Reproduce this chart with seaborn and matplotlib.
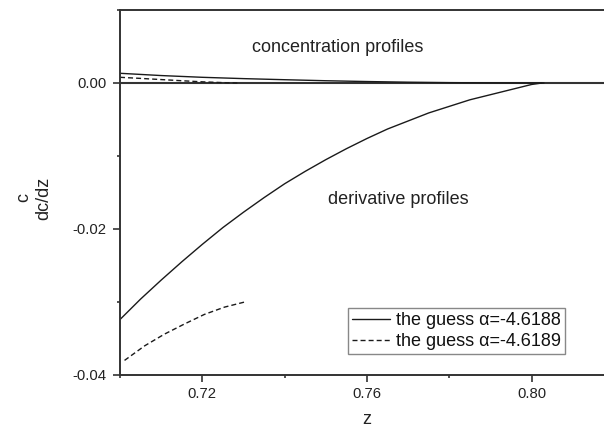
import matplotlib
matplotlib.use("Agg")
import matplotlib.pyplot as plt
import seaborn as sns
from matplotlib.ticker import FixedLocator

# ---- data ----
z_deriv_a = [0.700, 0.705, 0.710, 0.715, 0.720, 0.725, 0.730, 0.735, 0.740,
             0.745, 0.750, 0.755, 0.760, 0.765, 0.770, 0.775, 0.780, 0.785,
             0.790, 0.795, 0.800, 0.8025]
dcdz_a = [-0.0324, -0.0296, -0.0270, -0.0245, -0.0221, -0.0198, -0.0177,
          -0.0157, -0.0138, -0.0121, -0.0105, -0.0090, -0.0076, -0.0063,
          -0.0052, -0.0041, -0.0032, -0.0023, -0.0016, -0.0009, -0.0002, 0.0]

z_conc_a = [0.700, 0.710, 0.720, 0.730, 0.740, 0.750, 0.760, 0.770, 0.780,
            0.790, 0.800, 0.803]
c_a = [0.00133, 0.00102, 0.00078, 0.00060, 0.00045, 0.00031, 0.00020,
       0.00011, 0.00005, 0.00002, 0.00000, 0.0]

z_deriv_b = [0.7011, 0.7060, 0.7108, 0.7157, 0.7205, 0.7254, 0.7303]
dcdz_b = [-0.0380, -0.0360, -0.0344, -0.0330, -0.0317, -0.0307, -0.0300]

z_conc_b = [0.700, 0.705, 0.710, 0.715, 0.720, 0.725, 0.7285]
c_b = [0.00078, 0.00063, 0.00047, 0.00031, 0.00016, 0.00005, 0.0]

label_a = "the guess α=-4.6188"
label_b = "the guess α=-4.6189"

x_major = [0.72, 0.76, 0.80]
x_major_labels = ["0.72", "0.76", "0.80"]
x_minor = [0.70, 0.74, 0.78, 0.82]
y_major = [-0.04, -0.02, 0.00]
y_major_labels = ["-0.04", "-0.02", "0.00"]
y_minor = [-0.03, -0.01, 0.01]

# ---- styling ----
sns.set_theme(style="ticks")
plt.rcParams["font.family"] = ["Liberation Sans", "DejaVu Sans"]

fig = plt.figure(figsize=(6.04, 4.28), dpi=100)
W, H = 604, 428
left, right, top, bottom = 120, 614, 10, 375
ax = fig.add_axes([left / W, 1 - bottom / H, (right - left) / W, (bottom - top) / H])

col = "#1a1a1a"
dash = (0, (3.6, 2.2))

ax.axhline(0.0, color="#333333", lw=1.5, zorder=1)

sns.lineplot(x=z_deriv_a, y=dcdz_a, ax=ax, color=col, lw=1.0, sort=False,
             estimator=None, label=label_a)
sns.lineplot(x=z_deriv_b, y=dcdz_b, ax=ax, color=col, lw=1.0, sort=False,
             estimator=None, label=label_b, linestyle=dash)
sns.lineplot(x=z_conc_a, y=c_a, ax=ax, color=col, lw=1.0, sort=False,
             estimator=None)
sns.lineplot(x=z_conc_b, y=c_b, ax=ax, color=col, lw=1.0, sort=False,
             estimator=None, linestyle=dash)

ax.set_xlim(0.70, 0.82)
ax.set_ylim(-0.04, 0.01)

ax.xaxis.set_major_locator(FixedLocator(x_major))
ax.set_xticklabels(x_major_labels)
ax.xaxis.set_minor_locator(FixedLocator(x_minor))
ax.yaxis.set_major_locator(FixedLocator(y_major))
ax.set_yticklabels(y_major_labels)
ax.yaxis.set_minor_locator(FixedLocator(y_minor))

ax.tick_params(axis="both", which="major", direction="out", length=5, width=1.2,
               color="#333333", labelsize=10.7, labelcolor="#222222")
ax.tick_params(axis="x", which="major", pad=3.5)
ax.tick_params(axis="y", which="major", pad=4.5)
ax.tick_params(axis="both", which="minor", direction="out", length=2.5, width=1.2,
               color="#333333")

for s in ["left", "bottom", "top"]:
    ax.spines[s].set_color("#333333")
    ax.spines[s].set_linewidth(1.4)
ax.spines["right"].set_visible(False)

ax.set_xlabel("z", fontsize=13, color="#222222")
ax.xaxis.set_label_coords((367 - left) / (right - left), -(410.5 - bottom) / (bottom - top))
ax.xaxis.label.set_va("top")
ax.set_ylabel("")
fig.text(34 / W, 1 - 198 / H, "c\ndc/dz", rotation=90, ha="center", va="center",
         fontsize=13, color="#222222", multialignment="center", linespacing=1.25)

ax.text(0.7529, 0.00493, "concentration profiles", ha="center", va="center",
        fontsize=13, color="#222222")
ax.text(0.7675, -0.0159, "derivative profiles", ha="center", va="center",
        fontsize=13, color="#222222")

leg = ax.legend(loc="lower left",
                bbox_to_anchor=((348 - left) / (right - left), (bottom - 354) / (bottom - top)),
                borderaxespad=0, fontsize=13, frameon=True, fancybox=False,
                edgecolor="#888888", framealpha=1, handlelength=2.1,
                handletextpad=0.35, borderpad=0.22, labelspacing=0.2)
leg.get_frame().set_linewidth(1.0)
for t in leg.get_texts():
    t.set_color("#111111")

fig.savefig("out.png", dpi=100)
